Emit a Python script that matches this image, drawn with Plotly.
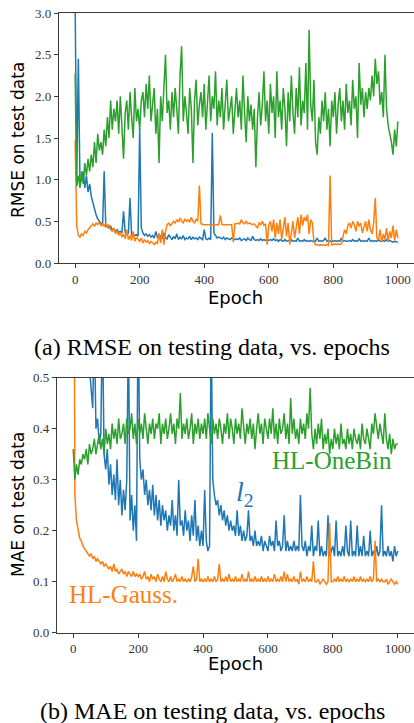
import plotly.graph_objects as go

# ---------------- data (sampled every 5 epochs, 0..1000) ----------------
epochs = list(range(0, 1001, 5))

# (a) RMSE on test data
rmse_l2 = [
    3.10, 1.05, 2.45, 0.95, 1.00, 1.10, 0.90, 1.05, 0.85, 0.95,
    0.80, 0.72, 0.65, 0.58, 0.53, 0.50, 0.47, 0.45, 1.10, 0.44,
    0.45, 0.42, 0.44, 0.40, 0.41, 0.38, 0.40, 0.37, 0.38, 0.36,
    0.62, 0.37, 0.35, 0.36, 0.78, 0.34, 0.35, 0.33, 0.34, 0.32,
    1.62, 0.42, 0.36, 0.33, 0.35, 0.32, 0.34, 0.31, 0.33, 0.30,
    0.38, 0.31, 0.30, 0.33, 0.29, 0.36, 0.30, 0.29, 0.34, 0.30,
    0.28, 0.32, 0.29, 0.35, 0.28, 0.31, 0.29, 0.33, 0.28, 0.30,
    0.29, 0.32, 0.28, 0.31, 0.29, 0.30, 0.28, 0.31, 0.29, 0.28,
    0.40, 0.29, 0.28, 0.30, 0.28, 1.56, 0.36, 0.32, 0.30, 0.31,
    0.30, 0.29, 0.31, 0.28, 0.30, 0.29, 0.28, 0.30, 0.29, 0.28,
    0.29, 0.28, 0.30, 0.27, 0.28, 0.29, 0.27, 0.30, 0.28, 0.27,
    0.32, 0.28, 0.27, 0.28, 0.27, 0.29, 0.27, 0.28, 0.27, 0.28,
    0.27, 0.28, 0.27, 0.29, 0.27, 0.28, 0.26, 0.28, 0.27, 0.26,
    0.28, 0.26, 0.27, 0.26, 0.28, 0.26, 0.27, 0.26, 0.30, 0.26,
    0.27, 0.26, 0.28, 0.26, 0.27, 0.26, 0.27, 0.26, 0.27, 0.26,
    0.30, 0.26, 0.27, 0.26, 0.27, 0.30, 0.26, 0.27, 0.26, 0.27,
    0.26, 0.27, 0.26, 0.27, 0.26, 0.30, 0.26, 0.27, 0.26, 0.26,
    0.27, 0.26, 0.28, 0.26, 0.27, 0.26, 0.29, 0.26, 0.27, 0.26,
    0.27, 0.26, 0.30, 0.26, 0.27, 0.26, 0.27, 0.26, 0.28, 0.26,
    0.26, 0.27, 0.26, 0.28, 0.26, 0.27, 0.26, 0.25, 0.26, 0.25,
    0.25,
]
rmse_gauss = [
    1.47, 0.45, 0.33, 0.31, 0.35, 0.33, 0.38, 0.36, 0.40, 0.42,
    0.45, 0.47, 0.44, 0.48, 0.46, 0.49, 0.45, 0.47, 0.44, 0.48,
    0.42, 0.46, 0.40, 0.38, 0.42, 0.35, 0.39, 0.33, 0.37, 0.31,
    0.35, 0.29, 0.40, 0.28, 0.33, 0.27, 0.38, 0.26, 0.31, 0.28,
    0.26, 0.30, 0.24, 0.28, 0.25, 0.27, 0.23, 0.26, 0.24, 0.22,
    0.25, 0.23, 0.36, 0.24, 0.40, 0.22, 0.38, 0.46, 0.48, 0.45,
    0.47, 0.50, 0.48, 0.52, 0.49, 0.54, 0.50, 0.48, 0.53, 0.50,
    0.52, 0.49, 0.55, 0.50, 0.48, 0.53, 0.50, 0.93, 0.47, 0.46,
    0.46, 0.46, 0.46, 0.46, 0.46, 0.46, 0.46, 0.46, 0.46, 0.46,
    0.57, 0.46, 0.46, 0.46, 0.46, 0.46, 0.46, 0.46, 0.25, 0.47,
    0.47, 0.48, 0.47, 0.52, 0.48, 0.47, 0.50, 0.47, 0.48, 0.47,
    0.46, 0.47, 0.45, 0.42, 0.48, 0.46, 0.50, 0.45, 0.47, 0.22,
    0.45, 0.50, 0.38, 0.52, 0.30, 0.48, 0.35, 0.52, 0.28, 0.45,
    0.55, 0.32, 0.48, 0.22, 0.40, 0.50, 0.30, 0.45, 0.55, 0.35,
    0.58, 0.45, 0.55, 0.50, 0.58, 0.35, 0.52, 0.48, 0.25, 0.22,
    0.22, 0.21, 0.22, 0.21, 0.22, 0.21, 0.22, 0.21, 1.05, 0.22,
    0.22, 0.23, 0.22, 0.23, 0.22, 0.23, 0.30, 0.40, 0.35, 0.45,
    0.48, 0.42, 0.50, 0.46, 0.38, 0.50, 0.44, 0.48, 0.36, 0.45,
    0.50, 0.38, 0.52, 0.40, 0.35, 0.48, 0.78, 0.30, 0.28, 0.40,
    0.25, 0.35, 0.28, 0.42, 0.26, 0.38, 0.30, 0.45, 0.27, 0.40,
    0.30,
]
rmse_onebin = [
    2.27, 0.92, 1.05, 0.90, 1.10, 0.95, 1.20, 1.05, 1.25, 1.10,
    1.30, 1.15, 1.45, 1.20, 1.55, 1.35, 1.45, 1.30, 1.60, 1.40,
    1.75, 1.50, 1.95, 1.60, 1.85, 1.70, 1.95, 1.55, 2.00, 1.65,
    1.25, 1.80, 1.95, 1.60, 2.05, 1.75, 1.50, 2.10, 1.70, 1.85,
    1.60, 1.95, 2.05, 1.75, 2.15, 1.85, 2.25, 1.70, 1.95, 2.10,
    1.55, 1.85, 1.20, 2.00, 1.70, 2.20, 2.50, 1.80, 1.95, 1.60,
    2.05, 1.75, 2.10, 1.85, 1.55, 2.25, 2.60, 1.70, 2.00, 1.80,
    1.55, 2.10, 1.85, 1.20, 1.95, 2.20, 1.65, 1.90, 2.05, 1.75,
    2.15, 1.60, 1.90, 2.25, 1.70, 2.00, 1.85, 2.30, 1.65, 1.95,
    1.75, 2.10, 1.60, 1.95, 2.20, 1.70, 1.85, 2.00, 1.55, 1.80,
    2.10, 1.75, 1.95, 1.60, 2.25, 1.80, 1.45, 2.00, 1.70, 1.90,
    1.60, 1.85, 1.15, 1.75, 2.05, 1.65, 1.90, 2.30, 1.70, 1.95,
    1.55, 2.15, 1.80, 2.00, 1.50, 2.30, 1.75, 1.95, 1.60, 2.10,
    1.85, 1.40, 2.05, 1.70, 2.25, 1.80, 1.55, 2.10, 1.75, 2.35,
    1.65, 1.95, 1.80, 2.40, 1.60, 2.80, 1.90, 1.70, 2.20, 1.45,
    1.30, 1.75, 1.55, 1.95, 1.70, 2.05, 1.60, 1.85, 1.40, 1.95,
    1.75, 2.05, 1.55, 1.90, 2.10, 1.70, 1.95, 1.60, 2.15, 1.80,
    1.95, 1.65, 2.20, 1.85, 2.00, 1.50, 2.40, 1.90, 2.10, 1.75,
    2.05, 1.85, 2.10, 1.95, 2.25, 2.00, 2.45, 2.15, 2.30, 1.90,
    2.05, 1.75, 2.50, 1.85, 1.65, 1.55, 1.45, 1.30, 1.60, 1.40,
    1.70,
]

# (b) MAE on test data
mae_l2 = [
    2.00, 1.60, 1.30, 1.10, 0.95, 0.85, 0.75, 0.68, 0.62, 0.56,
    0.52, 0.47, 0.44, 0.60, 0.40, 0.42, 0.37, 0.39, 0.62, 0.35,
    0.32, 0.36, 0.29, 0.33, 0.27, 0.31, 0.26, 0.34, 0.25, 0.30,
    0.23, 0.28, 0.24, 0.30, 0.60, 0.22, 0.27, 0.20, 0.25, 0.18,
    0.65, 0.34, 0.30, 0.32, 0.27, 0.30, 0.25, 0.28, 0.24, 0.29,
    0.23, 0.27, 0.22, 0.26, 0.21, 0.25, 0.22, 0.24, 0.20, 0.23,
    0.21, 0.26, 0.20, 0.23, 0.19, 0.30, 0.21, 0.22, 0.19, 0.24,
    0.20, 0.22, 0.18, 0.23, 0.19, 0.26, 0.18, 0.21, 0.17, 0.20,
    0.17, 0.28, 0.18, 0.16, 0.17, 0.60, 0.30, 0.27, 0.25, 0.26,
    0.23, 0.25, 0.22, 0.24, 0.21, 0.23, 0.20, 0.22, 0.20, 0.21,
    0.19, 0.24, 0.19, 0.21, 0.18, 0.20, 0.18, 0.19, 0.24, 0.18,
    0.19, 0.17, 0.20, 0.17, 0.18, 0.17, 0.19, 0.16, 0.18, 0.17,
    0.16, 0.19, 0.17, 0.18, 0.16, 0.22, 0.17, 0.18, 0.16, 0.17,
    0.23, 0.16, 0.18, 0.16, 0.17, 0.16, 0.18, 0.16, 0.17, 0.16,
    0.27, 0.17, 0.16, 0.18, 0.15, 0.17, 0.16, 0.21, 0.15, 0.17,
    0.16, 0.22, 0.15, 0.17, 0.15, 0.16, 0.15, 0.23, 0.15, 0.16,
    0.17, 0.15, 0.22, 0.15, 0.16, 0.15, 0.17, 0.15, 0.21, 0.16,
    0.15, 0.22, 0.15, 0.16, 0.15, 0.21, 0.15, 0.17, 0.15, 0.19,
    0.15, 0.16, 0.15, 0.20, 0.15, 0.16, 0.15, 0.17, 0.15, 0.16,
    0.25, 0.15, 0.16, 0.15, 0.17, 0.15, 0.16, 0.14, 0.17, 0.15,
    0.16,
]
mae_gauss = [
    1.50, 0.27, 0.22, 0.20, 0.185, 0.18, 0.17, 0.165, 0.16, 0.155,
    0.15, 0.155, 0.145, 0.15, 0.14, 0.145, 0.14, 0.135, 0.14, 0.13,
    0.135, 0.13, 0.125, 0.13, 0.12, 0.135, 0.12, 0.125, 0.115, 0.12,
    0.125, 0.115, 0.12, 0.11, 0.12, 0.115, 0.11, 0.12, 0.11, 0.115,
    0.11, 0.115, 0.105, 0.11, 0.12, 0.105, 0.11, 0.10, 0.115, 0.105,
    0.11, 0.10, 0.115, 0.105, 0.10, 0.11, 0.10, 0.12, 0.105, 0.10,
    0.11, 0.10, 0.105, 0.115, 0.10, 0.105, 0.10, 0.11, 0.10, 0.105,
    0.10, 0.105, 0.10, 0.11, 0.13, 0.10, 0.105, 0.145, 0.10, 0.105,
    0.10, 0.105, 0.10, 0.11, 0.10, 0.105, 0.10, 0.11, 0.10, 0.105,
    0.135, 0.10, 0.105, 0.10, 0.11, 0.10, 0.115, 0.10, 0.105, 0.10,
    0.11, 0.10, 0.105, 0.10, 0.115, 0.10, 0.105, 0.10, 0.12, 0.10,
    0.105, 0.10, 0.11, 0.10, 0.105, 0.10, 0.11, 0.10, 0.105, 0.10,
    0.11, 0.10, 0.105, 0.10, 0.115, 0.10, 0.105, 0.10, 0.11, 0.10,
    0.12, 0.10, 0.115, 0.10, 0.105, 0.10, 0.11, 0.10, 0.105, 0.095,
    0.12, 0.10, 0.105, 0.10, 0.11, 0.10, 0.105, 0.10, 0.14, 0.10,
    0.10, 0.105, 0.095, 0.10, 0.105, 0.10, 0.095, 0.10, 0.215, 0.10,
    0.10, 0.105, 0.10, 0.11, 0.10, 0.105, 0.10, 0.11, 0.10, 0.105,
    0.10, 0.105, 0.10, 0.11, 0.10, 0.105, 0.10, 0.11, 0.10, 0.105,
    0.10, 0.105, 0.10, 0.11, 0.10, 0.105, 0.18, 0.10, 0.105, 0.10,
    0.105, 0.10, 0.10, 0.105, 0.095, 0.10, 0.105, 0.10, 0.095, 0.10,
    0.095,
]
mae_onebin = [
    0.36, 0.30, 0.33, 0.31, 0.34, 0.33, 0.35, 0.34, 0.36, 0.33,
    0.37, 0.35, 0.36, 0.38, 0.35, 0.37, 0.39, 0.36, 0.38, 0.35,
    0.40, 0.37, 0.39, 0.36, 0.41, 0.38, 0.40, 0.37, 0.42, 0.38,
    0.39, 0.41, 0.37, 0.42, 0.39, 0.40, 0.43, 0.38, 0.41, 0.37,
    0.42, 0.39, 0.41, 0.38, 0.43, 0.40, 0.37, 0.41, 0.39, 0.42,
    0.38, 0.41, 0.40, 0.43, 0.37, 0.41, 0.39, 0.42, 0.38, 0.40,
    0.43, 0.39, 0.41, 0.37, 0.42, 0.40, 0.47, 0.38, 0.41, 0.39,
    0.42, 0.38, 0.40, 0.43, 0.37, 0.41, 0.39, 0.42, 0.38, 0.41,
    0.39, 0.42, 0.38, 0.43, 0.40, 0.37, 0.42, 0.39, 0.41, 0.38,
    0.42, 0.40, 0.37, 0.41, 0.39, 0.43, 0.38, 0.42, 0.40, 0.37,
    0.42, 0.39, 0.41, 0.38, 0.44, 0.40, 0.37, 0.41, 0.39, 0.42,
    0.38, 0.41, 0.36, 0.40, 0.43, 0.39, 0.41, 0.37, 0.42, 0.40,
    0.38, 0.42, 0.39, 0.44, 0.38, 0.41, 0.37, 0.42, 0.39, 0.40,
    0.43, 0.38, 0.41, 0.37, 0.46, 0.39, 0.42, 0.38, 0.40, 0.37,
    0.42, 0.39, 0.41, 0.38, 0.43, 0.40, 0.48, 0.39, 0.36, 0.40,
    0.37, 0.41, 0.38, 0.42, 0.36, 0.39, 0.37, 0.40, 0.35, 0.38,
    0.36, 0.40, 0.37, 0.39, 0.36, 0.41, 0.37, 0.38, 0.36, 0.40,
    0.37, 0.39, 0.36, 0.40, 0.38, 0.37, 0.39, 0.36, 0.41, 0.38,
    0.37, 0.40, 0.38, 0.36, 0.41, 0.39, 0.43, 0.40, 0.38, 0.41,
    0.39, 0.37, 0.43, 0.38, 0.36, 0.39, 0.35, 0.38, 0.36, 0.37,
    0.37,
]

x_ticks = [0, 200, 400, 600, 800, 1000]
rmse_ticks = [0.0, 0.5, 1.0, 1.5, 2.0, 2.5, 3.0]
mae_ticks = [0.0, 0.1, 0.2, 0.3, 0.4, 0.5]

# ---------------- figure ----------------
W, H = 414, 723
BLUE, ORANGE, GREEN = "#1f77b4", "#ff7f0e", "#2ca02c"
AX = "#3a3a3a"

fig = go.Figure()

def add(y, color, xa, ya):
    fig.add_trace(go.Scatter(x=epochs[:len(y)], y=y, mode="lines",
                             line=dict(color=color, width=1.5),
                             xaxis=xa, yaxis=ya, showlegend=False,
                             hoverinfo="skip"))

add(rmse_l2, BLUE, "x", "y")
add(rmse_gauss, ORANGE, "x", "y")
add(rmse_onebin, GREEN, "x", "y")
add(mae_l2, BLUE, "x2", "y2")
add(mae_gauss, ORANGE, "x2", "y2")
add(mae_onebin, GREEN, "x2", "y2")

tickfont = dict(family="Liberation Serif, DejaVu Serif, serif", size=13, color="#333")
common_x = dict(range=[-50, 1050], tickvals=x_ticks, ticks="outside", ticklen=4,
                tickcolor=AX, showline=True, linecolor=AX, linewidth=1.2,
                mirror=True, showgrid=False, zeroline=False, tickfont=tickfont,
                automargin=False)
common_y = dict(ticks="outside", ticklen=4, tickcolor=AX, showline=True,
                linecolor=AX, linewidth=1.2, showgrid=False, zeroline=False,
                tickfont=tickfont, tickformat=".1f", automargin=False)

fig.update_layout(
    width=W, height=H, margin=dict(l=0, r=0, t=0, b=0, autoexpand=False),
    paper_bgcolor="white", plot_bgcolor="white",
    xaxis=dict(domain=[59 / W, 1], anchor="y", **common_x),
    yaxis=dict(domain=[1 - 263 / H, 1 - 13 / H], range=[0, 3], tickvals=rmse_ticks,
               anchor="x", **common_y),
    xaxis2=dict(domain=[57 / W, 1], anchor="y2", **common_x),
    yaxis2=dict(domain=[1 - 632.7 / H, 1 - 377.7 / H], range=[0, 0.5], tickvals=mae_ticks,
                anchor="x2", **common_y),
)

sans = "DejaVu Sans, sans-serif"
serif = "Liberation Serif, serif"

def px_ann(text, x, y, size, family, color="black", angle=0):
    fig.add_annotation(text=text, x=x / W, y=1 - y / H, xref="paper", yref="paper",
                       showarrow=False, textangle=angle, xanchor="center", yanchor="middle",
                       font=dict(size=size, family=family, color=color))

# axis titles
px_ann("RMSE on test data", 18, 140, 17, sans, angle=-90)
px_ann("Epoch", 235, 297, 18, sans)
px_ann("MAE on test data", 18, 505, 17, sans, angle=-90)
px_ann("Epoch", 235, 663, 18, sans)

# captions
px_ann("(a) RMSE on testing data, vs. epochs", 212, 347, 24, serif)
px_ann("(b) MAE on testing data, vs. epochs", 212, 711, 24, serif)

# in-plot labels (data coords)
fig.add_annotation(text="HL-OneBin", x=797, y=0.337, xref="x2", yref="y2", showarrow=False,
                   font=dict(size=25, family=serif, color=GREEN))
fig.add_annotation(text="<i>l</i><sub>2</sub>", x=496, y=0.272, xref="x2", yref="y2",
                   xanchor="left", showarrow=False,
                   font=dict(size=28, family=serif, color=BLUE))
fig.add_annotation(text="HL-Gauss.", x=155, y=0.074, xref="x2", yref="y2", showarrow=False,
                   font=dict(size=25, family=serif, color=ORANGE))

fig.write_html("out.html", config={"displayModeBar": False},
               post_script="document.body.style.margin='0';document.body.style.overflow='hidden';")
